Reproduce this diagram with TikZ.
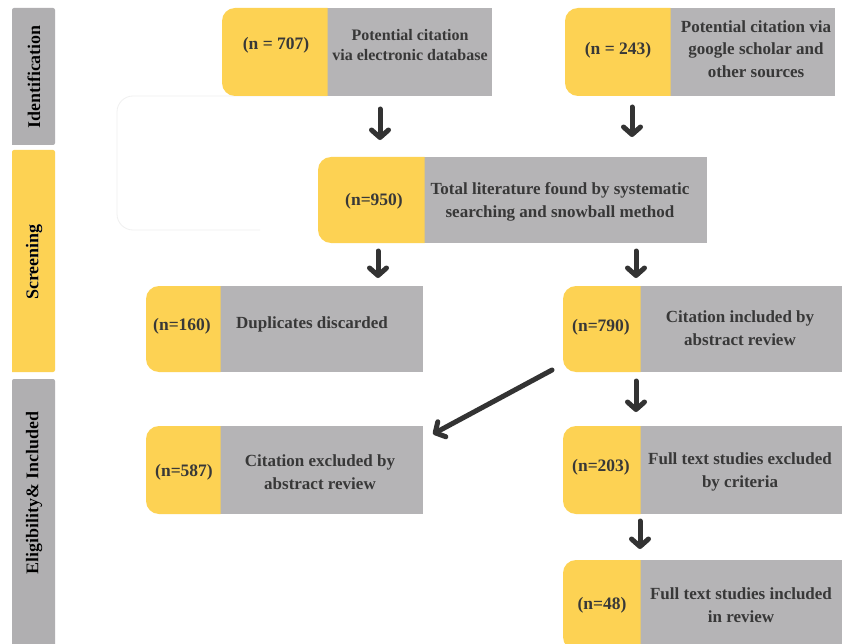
\documentclass[tikz,border=0pt]{standalone}
\usepackage{fontspec}
\setmainfont{Liberation Serif}
\usepackage[outline]{contour}
\contourlength{1.4pt}
\usetikzlibrary{arrows.meta}
\definecolor{yel}{HTML}{FDD253}
\definecolor{gry}{HTML}{B5B4B6}
\definecolor{bargry}{HTML}{B0AFB1}
\definecolor{txt}{HTML}{383838}
\definecolor{arrc}{HTML}{333333}
\tikzset{
  boxtext/.style={font=\bfseries\fontsize{17}{22.5}\selectfont, text=txt, align=center, inner sep=0pt},
  smalltext/.style={boxtext, font=\bfseries\fontsize{16}{20}\selectfont},
  ntext/.style={font=\bfseries\fontsize{17.5}{22}\selectfont, text=txt, inner sep=0pt},
  bartext/.style={font=\bfseries\fontsize{18}{20}\selectfont, text=black, rotate=90, inner sep=0pt},
  arr/.style={draw=arrc, line width=5pt, -{Straight Barb[length=7.5pt,width=17pt,line width=5pt,round]}, line cap=round},
  shell/.style={inner sep=0pt, outer sep=0pt, draw=none}
}
% #1 name, #2 x-left, #3 x-split, #4 x-right, #5 y-top, #6 y-bottom
\newcommand\flowbox[6]{%
  \fill[gry] (#3,#5) rectangle (#4,#6);
  \fill[yel] (#3+0.5,#5) [rounded corners=13pt] -- (#2,#5) -- (#2,#6) [sharp corners] -- (#3+0.5,#6) -- cycle;
  \node[shell, minimum width=#4-#2, minimum height=#6-#5, anchor=north west] (#1) at (#2,#5) {};
}
\begin{document}
\begin{tikzpicture}[x=1pt,y=-1pt]
\useasboundingbox (0,0) rectangle (842,644);
\fill[white] (0,0) rectangle (842,644);

% faint background outline
\draw[black!6, line width=0.8pt, rounded corners=16pt] (327,96) -- (117,96) -- (117,230) -- (260,230);

% side bars
\fill[bargry, rounded corners=2pt] (12,145) -- (12,8) -- (55,8) -- (55,145) [sharp corners] -- cycle;
\fill[yel, rounded corners=2pt] (12,372) -- (12,150) -- (55,150) -- (55,372) [sharp corners] -- cycle;
\fill[bargry, rounded corners=2pt] (12,650) -- (12,379) -- (55,379) -- (55,650) [sharp corners] -- cycle;
\node[bartext] (s1) at (34,77) {\contour{white}{Identification}};
\node[bartext] (s2) at (34,262) {\contour{white}{Screening}};
\node[bartext] (s3) at (34,493) {\contour{white}{Eligibility\& Included}};

% boxes
\flowbox{b1}{222}{327}{492}{8}{96}
\node[ntext] (b1n) at (276,45) {(n = 707)};
\node[smalltext] (b1t) at (410,45) {Potential citation\\via electronic database};

\flowbox{b2}{565}{670}{835}{8}{96}
\node[ntext] (b2n) at (618,50) {(n = 243)};
\node[boxtext] (b2t) at (756,49) {Potential citation via\\google scholar and\\other sources};

\flowbox{b3}{318}{424}{707}{157}{243}
\node[ntext] (b3n) at (374,201) {(n=950)};
\node[boxtext] (b3t) at (560,202) {Total literature found by systematic\\searching and snowball method};

\flowbox{b4}{146}{220}{423}{286}{372}
\node[ntext] (b4n) at (182,326) {(n=160)};
\node[boxtext] (b4t) at (312,324) {Duplicates discarded};

\flowbox{b5}{563}{640}{842}{286}{372}
\node[ntext] (b5n) at (601,327) {(n=790)};
\node[boxtext] (b5t) at (740,328) {Citation included by\\abstract review};

\flowbox{b6}{146}{220}{423}{426}{514}
\node[ntext] (b6n) at (184,472) {(n=587)};
\node[boxtext] (b6t) at (320,472) {Citation excluded by\\abstract review};

\flowbox{b7}{563}{640}{842}{426}{514}
\node[ntext] (b7n) at (601,467) {(n=203)};
\node[boxtext] (b7t) at (740,472) {Full text studies excluded\\by criteria};

\flowbox{b8}{563}{640}{842}{560}{650}
\node[ntext] (b8n) at (602,605) {(n=48)};
\node[boxtext] (b8t) at (741,605) {Full text studies included\\in review};

% arrow end points
\coordinate (a1s) at (380,109); \coordinate (a1e) at (380,140);
\coordinate (a2s) at (632,107); \coordinate (a2e) at (632,137);
\coordinate (a3s) at (378,251); \coordinate (a3e) at (378,278);
\coordinate (a4s) at (636,251); \coordinate (a4e) at (636,278);
\coordinate (a5s) at (552,370); \coordinate (a5e) at (433,434);
\coordinate (a6s) at (636,381); \coordinate (a6e) at (636,412);
\coordinate (a7s) at (640,521); \coordinate (a7e) at (640,549);

\draw[arr] (a1s) -- (a1e);
\draw[arr] (a2s) -- (a2e);
\draw[arr] (a3s) -- (a3e);
\draw[arr] (a4s) -- (a4e);
\draw[arr] (a5s) -- (a5e);
\draw[arr] (a6s) -- (a6e);
\draw[arr] (a7s) -- (a7e);
\end{tikzpicture}
\end{document}
